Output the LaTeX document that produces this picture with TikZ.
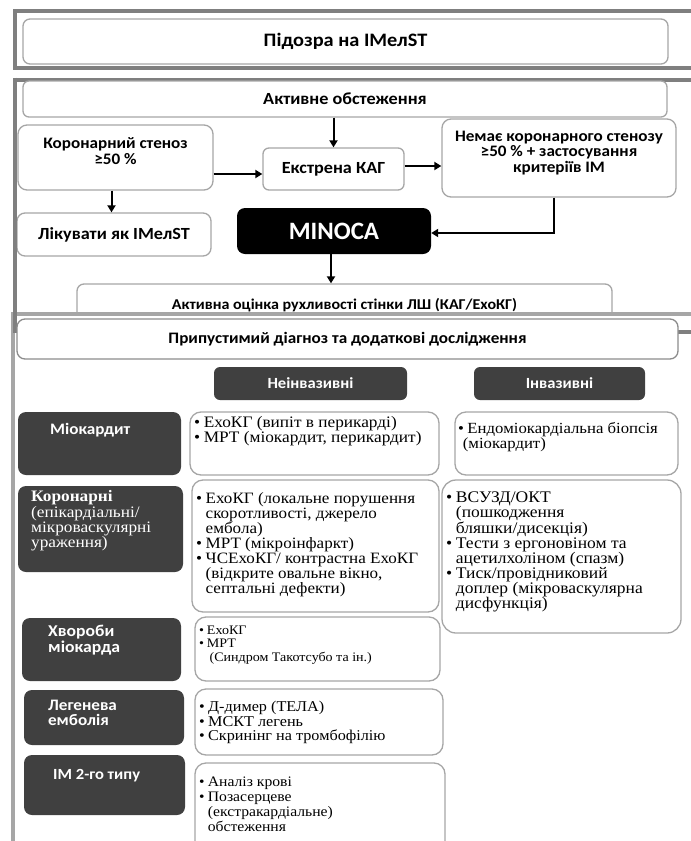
\documentclass[tikz,border=0pt]{standalone}
\usepackage{fontspec}
\setmainfont[FakeStretch=1.08]{Liberation Serif}
\newfontfamily\carl[FakeStretch=1.07]{Carlito}
\newfontfamily\carlplain{Carlito}
\usetikzlibrary{arrows.meta}
\definecolor{framedark}{HTML}{7F7F7F}
\definecolor{framelight}{HTML}{A6A6A6}
\definecolor{bord}{HTML}{A6A6A6}
\definecolor{bordtwo}{HTML}{8C8C8C}
\definecolor{darkfill}{HTML}{404040}
\newcommand\hd{\carl\bfseries}
\newcommand\bulx{\makebox[0.6em][l]{•}}
\newcommand\contx{\hspace*{0.6em}}
\newcommand\mybox[7]{%
 \pgfmathsetmacro\bw{#5-#3}\pgfmathsetmacro\bh{#6-#4}%
 \pgfmathsetmacro\cx{(#3+#5)/2}\pgfmathsetmacro\cy{(#4+#6)/2}%
 \node[#2, minimum width=\bw pt, minimum height=\bh pt] (#1) at (\cx,\cy) {#7};}
\begin{document}
\begin{tikzpicture}[x=1pt,y=-1pt,
  arr/.style={line width=2pt,-{Triangle[length=7pt,width=8pt]}},
  wbox/.style={draw=bord, line width=1.3pt, fill=white, rounded corners=6pt, inner sep=0pt, align=center},
  rbox/.style={draw=bord, line width=1.3pt, fill=white, rounded corners=11pt, inner sep=0pt},
  dbox/.style={fill=darkfill, rounded corners=8pt, inner sep=0pt, text=white, align=center},
  framea/.style={draw=framedark, line width=4pt},
  frameb/.style={draw=framelight, line width=4pt},
  txt/.style={inner sep=0pt, anchor=west, align=left}]
\useasboundingbox (0,0) rectangle (691,841);
\clip (0,0) rectangle (691,841);
\fill[white] (0,0) rectangle (691,841);
% panel 1
\draw[framea] (700,11) -- (15,11) -- (15,68) -- (700,68);
\mybox{p1}{wbox, rounded corners=7pt}{23}{19}{668}{64}{\hd\fontsize{19}{21}\selectfont Підозра на IMелST}
% panel 2
\draw[framea] (13,79.5) -- (700,79.5);
\mybox{act}{wbox}{23}{81}{667}{117}{\hd\fontsize{17}{19}\selectfont Активне обстеження}
\mybox{kor}{wbox, rounded corners=9pt}{18}{125}{213}{190}{}
\node[txt, anchor=center, align=center, font=\hd\fontsize{16}{16}\selectfont] (korT) at (115.5,151) {Коронарний стеноз\\≥50 \%};
\mybox{ekst}{wbox}{263}{148}{404}{190}{\hd\fontsize{17}{19}\selectfont Екстрена КАГ}
\mybox{nem}{wbox, rounded corners=9pt}{442}{119}{676}{197}{}
\node[txt, anchor=center, align=center, font=\hd\fontsize{16}{15.5}\selectfont] (nemT) at (559,153) {Немає коронарного стенозу\\≥50 \% + застосування\\критеріїв IM};
\mybox{lik}{wbox, rounded corners=8pt}{17}{213}{211}{256}{\hd\fontsize{17}{19}\selectfont Лікувати як IMелST}
\mybox{min}{dbox, fill=black}{237}{208}{431}{254}{\carlplain\bfseries\fontsize{25}{27}\selectfont MINOCA}
\mybox{akt}{wbox, rounded corners=7pt}{77}{284}{612}{340}{}
\node[txt, anchor=center, font=\hd\fontsize{15}{17}\selectfont] (aktT) at (344.5,305) {Активна оцінка рухливості стінки ЛШ (КАГ/ЕхоКГ)};
\draw[arr] (ekst.north |- act.south) -- (ekst.north);
\draw[arr] ([yshift=-5pt]ekst.west -| kor.east) -- ([yshift=-5pt]ekst.west);
\draw[arr] ([yshift=3pt]ekst.east) -- ([yshift=3pt]ekst.east -| nem.west);
\draw[arr] ([xshift=-4pt]kor.south) -- ([xshift=-4pt]kor.south |- lik.north);
\draw[arr] ([xshift=-5pt]nem.south) |- ([yshift=-2pt]min.east);
\draw[arr] ([xshift=-3pt]min.south) -- ([xshift=-3pt]min.south |- akt.north);
% panel 3
\fill[white] (0,316) rectangle (691,841);
\draw[frameb] (700,314) -- (12.5,314) -- (12.5,845);
\draw[framea] (15,77.5) -- (15,333);
\draw[framea] (678,332) -- (700,332);
\mybox{pry}{wbox, draw=bordtwo, rounded corners=8pt}{17}{319}{678}{359}{\hd\fontsize{16}{18}\selectfont Припустимий діагноз та додаткові дослідження}
\mybox{neinv}{dbox, rounded corners=6pt}{214}{367}{407}{400}{\hd\fontsize{15.5}{17}\selectfont Неінвазивні}
\mybox{inv}{dbox, rounded corners=6pt}{474}{367}{645}{400}{\hd\fontsize{15.5}{17}\selectfont Інвазивні}
% row 1
\mybox{mio}{dbox}{18}{412}{181}{475}{}
\node[txt, text=white, font=\hd\fontsize{16}{18}\selectfont] (mioT) at (50,430) {Міокардит};
\mybox{b1}{rbox}{190}{412}{439}{475}{}
\node[txt, font=\fontsize{16}{14.5}\selectfont] (b1T) at (194,431) {\bulx ЕхоКГ (випіт в перикарді)\\\bulx МРТ (міокардит, перикардит)};
\mybox{endo}{rbox}{455}{412}{678}{475}{}
\node[txt, font=\fontsize{15.5}{15}\selectfont] (endoT) at (458,437.5) {\bulx Ендоміокардіальна біопсія\\\hspace*{0.3em}(міокардит)};
% row 2
\mybox{kn}{dbox}{18}{486}{183}{572}{}
\node[txt, text=white, font=\fontsize{16}{15.4}\selectfont] (knT) at (31,521) {\textbf{Коронарні}\\(епікардіальні/\\мікроваскулярні\\ураження)};
\mybox{b2}{rbox}{192}{480}{439}{612}{}
\node[txt, font=\fontsize{15.8}{15}\selectfont] (b2T) at (196,545) {\bulx ЕхоКГ (локальне порушення\\\contx скоротливості, джерело\\\contx ембола)\\\bulx МРТ (мікроінфаркт)\\\bulx ЧСЕхоКГ/ контрастна ЕхоКГ\\\contx (відкрите овальне вікно,\\\contx септальні дефекти)};
\mybox{r2}{rbox, rounded corners=14pt}{442}{480}{681}{633}{}
\node[txt, font=\fontsize{16.2}{14.9}\selectfont] (r2T) at (446,552) {\bulx ВСУЗД/ОКТ\\\contx (пошкодження\\\contx бляшки/дисекція)\\\bulx Тести з ергоновіном та\\\contx ацетилхоліном (спазм)\\\bulx Тиск/провідниковий\\\contx доплер (мікроваскулярна\\\contx дисфункція)};
% row 3
\mybox{khv}{dbox}{22}{618}{181}{681}{}
\node[txt, text=white, font=\hd\fontsize{16.5}{16}\selectfont] (khvT) at (48,640) {Хвороби\\міокарда};
\mybox{b3}{rbox}{195}{617}{440}{681}{}
\node[txt, font=\fontsize{13}{13.5}\selectfont] (b3T) at (199,645) {\bulx ЕхоКГ\\\bulx МРТ\\\contx\hspace*{0.2em}(Синдром Такотсубо та ін.)};
% row 4
\mybox{leg}{dbox}{24}{690}{184}{745}{}
\node[txt, text=white, font=\hd\fontsize{16}{15}\selectfont] (legT) at (48,712.5) {Легенева\\емболія};
\mybox{b4}{rbox}{195}{689}{443}{755}{}
\node[txt, font=\fontsize{15}{14.5}\selectfont] (b4T) at (199,722.5) {\bulx Д-димер (ТЕЛА)\\\bulx МСКТ легень\\\bulx Скринінг на тромбофілію};
% row 5
\mybox{im}{dbox}{24}{755}{185}{815}{}
\node[txt, text=white, font=\hd\fontsize{15.5}{18}\selectfont] (imT) at (53,776) {IM 2-го типу};
\mybox{b5}{rbox}{195}{763}{445}{870}{}
\node[txt, font=\fontsize{14.5}{15}\selectfont] (b5T) at (199,804.5) {\bulx Аналіз крові\\\bulx Позасерцеве\\\contx (екстракардіальне)\\\contx обстеження};
\end{tikzpicture}
\end{document}
